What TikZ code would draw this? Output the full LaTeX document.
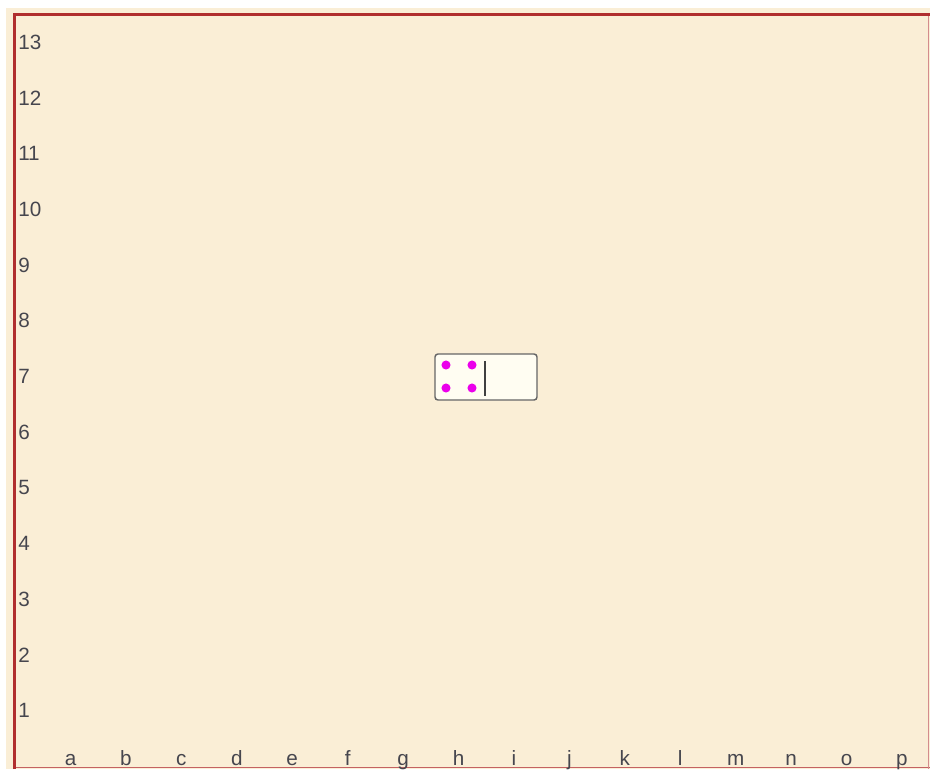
\documentclass[tikz,border=0pt]{standalone}
\usepackage{fontspec}
\setmainfont{Liberation Sans}
\usepackage{xcolor}
\usetikzlibrary{positioning}
\definecolor{board}{RGB}{250,238,214}
\definecolor{frame}{RGB}{176,46,46}
\definecolor{label}{RGB}{70,70,78}
\definecolor{pip}{RGB}{235,0,235}
\definecolor{tile}{RGB}{255,253,242}

\begin{document}
\begin{tikzpicture}[x=0.75pt,y=-0.75pt,font=\fontsize{15.5}{18}\selectfont,
  lbl/.style={text=label,inner sep=0pt}]
\useasboundingbox (0,0) rectangle (930,769);
\fill[white] (0,0) rectangle (930,769);
% board
\fill[board] (6,8) rectangle (930,769);
\draw[frame!75,line width=0.9pt] (16,767.5) -- (930,767.5);
\draw[frame!55,line width=0.75pt] (928.5,16) -- (928.5,769);
\draw[frame,line width=2.4pt] (14.5,769) -- (14.5,14.5) -- (930,14.5);
% rows 13 (top) .. 1 (bottom)
\foreach \r in {1,...,13}{
  \pgfmathsetmacro\yr{42.5+(13-\r)*55.67}
  \node[lbl,anchor=west] (row\r) at (18,\yr) {\r};
}
% columns a .. p
\foreach \c [count=\i from 0] in {a,b,c,d,e,f,g,h,i,j,k,l,m,n,o,p}{
  \pgfmathsetmacro\xc{70.5+\i*55.43}
  \node[lbl,anchor=base] (col\c) at (\xc,765) {\c};
}
% domino: four pips | empty half
\node[draw=black!60,fill=tile,line width=1.1pt,rounded corners=2.25pt,
      minimum width=76.5pt,minimum height=34.5pt,inner sep=0pt] (domino) at (486,377) {};
\foreach \px/\py in {446/365,472/365,446/388,472/388}
  \fill[pip] (\px,\py) circle (3.4pt);
\draw[black!75,line width=1.1pt] (485,361) -- (485,396);
\end{tikzpicture}
\end{document}
